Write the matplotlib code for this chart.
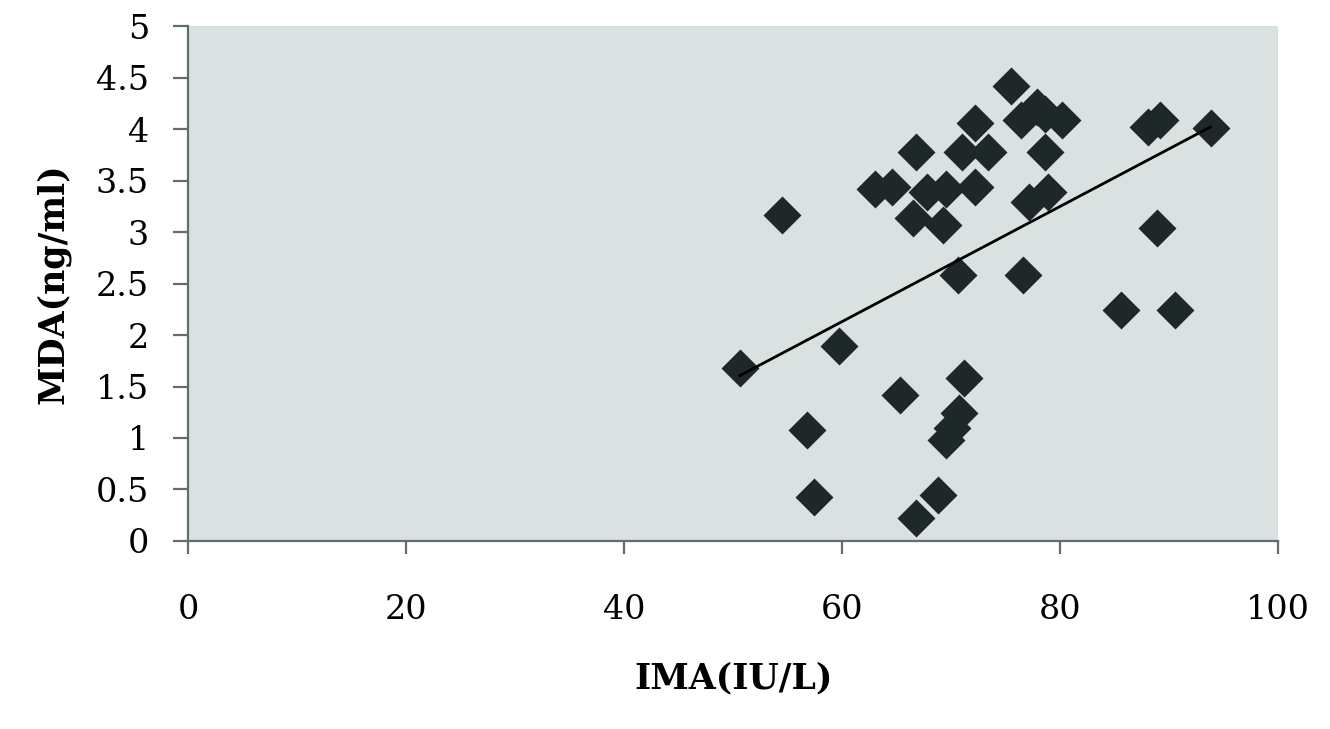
import numpy as np
import matplotlib
matplotlib.use("Agg")
from matplotlib import pyplot as plt

# IMA (IU/L) vs MDA (ng/ml)
ima = [75.5, 77.9, 80.2, 76.4, 78.6, 72.2, 78.6, 66.8, 71.0, 73.4,
       63.0, 64.6, 67.8, 69.5, 72.2, 66.5, 69.3, 77.1, 78.9, 54.5,
       88.1, 89.2, 93.8, 88.9, 70.6, 76.6, 85.6, 90.5, 59.7, 50.6,
       65.3, 71.2, 70.7, 70.1, 69.5, 56.8, 57.4, 68.8, 66.8]
mda = [4.42, 4.22, 4.09, 4.09, 4.15, 4.06, 3.78, 3.78, 3.78, 3.78,
       3.42, 3.44, 3.39, 3.42, 3.44, 3.14, 3.07, 3.29, 3.39, 3.17,
       4.02, 4.09, 4.01, 3.04, 2.58, 2.58, 2.24, 2.24, 1.89, 1.68,
       1.42, 1.58, 1.24, 1.10, 0.98, 1.08, 0.43, 0.45, 0.22]

xticks = [0, 20, 40, 60, 80, 100]
yticks = [0, 0.5, 1, 1.5, 2, 2.5, 3, 3.5, 4, 4.5, 5]
ylabels = ['0', '0.5', '1', '1.5', '2', '2.5', '3', '3.5', '4', '4.5', '5']

plt.rcParams['font.family'] = 'DejaVu Serif'

fig = plt.figure(figsize=(13.3, 7.29), dpi=100)
ax = fig.add_axes([0.1414, 0.258, 0.8196, 0.706])
ax.set_facecolor('#d9e2e1')

ax.plot(ima, mda, 'D', ms=19, color='#1e2828', mec='none', zorder=3)

# linear trendline over the data range
k, b = np.polyfit(ima, mda, 1)
xs = np.array([min(ima), max(ima)])
ax.plot(xs, k * xs + b, color='black', lw=2, zorder=4)

ax.set_xlim(0, 100)
ax.set_ylim(0, 5)
ax.set_xticks(xticks)
ax.set_yticks(yticks)
ax.set_yticklabels(ylabels)

for s in ['top', 'right']:
    ax.spines[s].set_visible(False)
for s in ['left', 'bottom']:
    ax.spines[s].set_color('#5f6f6f')
    ax.spines[s].set_linewidth(1.6)

ax.tick_params(axis='y', direction='out', length=11, width=1.6, color='#5f6f6f',
               labelsize=24, pad=17)
ax.tick_params(axis='x', direction='out', length=9, width=1.6, color='#5f6f6f',
               labelsize=24, pad=29)

ax.set_xlabel('IMA(IU/L)', fontsize=25, fontweight='bold', labelpad=26)
ax.set_ylabel('MDA(ng/ml)', fontsize=25, fontweight='bold', labelpad=18)

plt.savefig('out.png', dpi=100)
